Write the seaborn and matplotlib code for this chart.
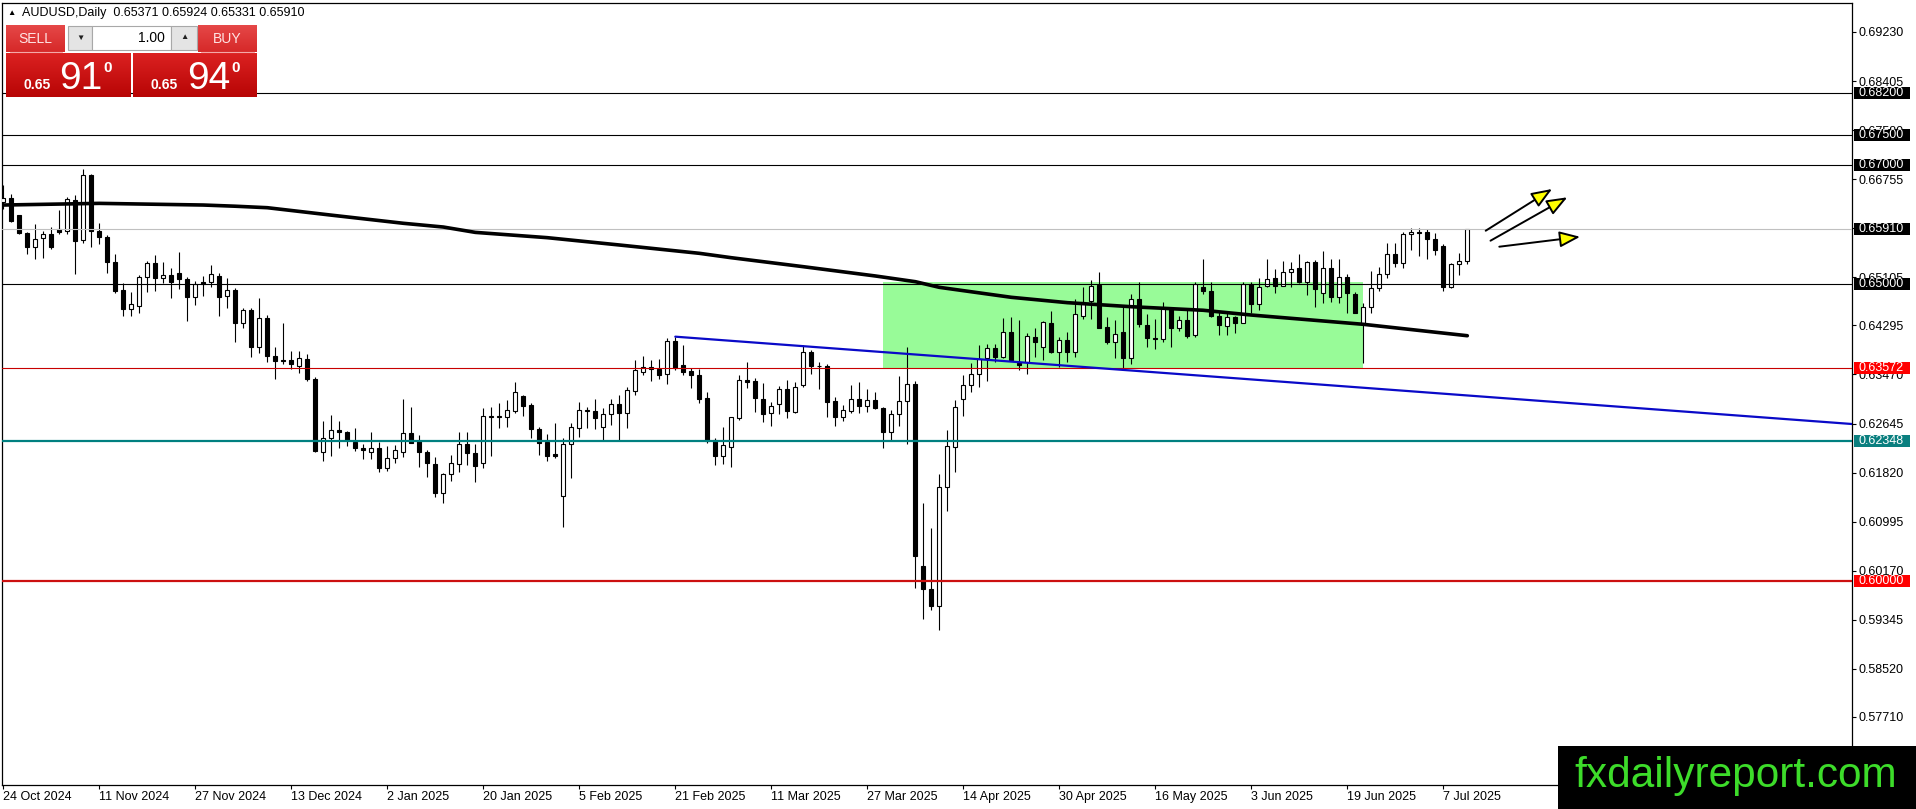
import numpy as np
import pandas as pd
import matplotlib
matplotlib.use("Agg")
import matplotlib.pyplot as plt
import seaborn as sns
from matplotlib.patches import Rectangle
from matplotlib.transforms import blended_transform_factory

# ---------------- data ----------------
opens = [0.66365, 0.66433, 0.66152, 0.65844, 0.65620, 0.65760, 0.65833, 0.65911, 0.65883, 0.66405,
         0.65732, 0.66825, 0.65883, 0.65777, 0.65356, 0.64891, 0.64566, 0.64622, 0.65104, 0.65339,
         0.65087, 0.65138, 0.65171, 0.65070, 0.64768, 0.65020, 0.65020, 0.65132, 0.64790, 0.64891,
         0.64330, 0.64555, 0.63927, 0.64414, 0.63787, 0.63714, 0.63714, 0.63613, 0.63725, 0.63394,
         0.62172, 0.62408, 0.62531, 0.62497, 0.62335, 0.62239, 0.62172, 0.62228, 0.61892, 0.62060,
         0.62172, 0.62480, 0.62351, 0.62161, 0.61959, 0.61471, 0.61791, 0.61959, 0.62301, 0.62144,
         0.61976, 0.62761, 0.62761, 0.62761, 0.62862, 0.63108, 0.62957, 0.62548, 0.62335, 0.62127,
         0.61432, 0.62295, 0.62564, 0.62856, 0.62856, 0.62593, 0.62800, 0.62968, 0.62817, 0.63198,
         0.63518, 0.63590, 0.63562, 0.63473, 0.64033, 0.63630, 0.63534, 0.63461, 0.63069, 0.62368,
         0.62105, 0.62256, 0.62733, 0.63377, 0.63360, 0.63058, 0.62817, 0.62974, 0.63220, 0.62845,
         0.63293, 0.63843, 0.63618, 0.63613, 0.63024, 0.62749, 0.62862, 0.63052, 0.62946, 0.63041,
         0.62901, 0.62497, 0.62806, 0.63024, 0.63310, 0.60249, 0.59862, 0.59582, 0.61572, 0.62256,
         0.63052, 0.63293, 0.63473, 0.63742, 0.63910, 0.63770, 0.64179, 0.63669, 0.63686, 0.64106,
         0.63938, 0.64330, 0.63854, 0.64050, 0.63854, 0.64459, 0.64712, 0.64975, 0.64263, 0.64022,
         0.64179, 0.63742, 0.64734, 0.64297, 0.64078, 0.64061, 0.64594, 0.64258, 0.64381, 0.64134,
         0.64936, 0.64880, 0.64454, 0.64286, 0.64443, 0.64342, 0.64992, 0.64656, 0.64958, 0.65087,
         0.64964, 0.65188, 0.65255, 0.65031, 0.65367, 0.64835, 0.65255, 0.64779, 0.65104, 0.64818,
         0.64319, 0.64611, 0.64919, 0.65160, 0.65496, 0.65339, 0.65833, 0.65861, 0.65861, 0.65743,
         0.65631, 0.64936, 0.65323, 0.65371]
highs = [0.66657, 0.66506, 0.66152, 0.65872, 0.66001, 0.65883, 0.65945, 0.66236, 0.66461, 0.66489,
         0.66926, 0.66842, 0.66012, 0.65816, 0.65496, 0.65003, 0.64852, 0.65143, 0.65379, 0.65480,
         0.65356, 0.65255, 0.65536, 0.65115, 0.65042, 0.65126, 0.65311, 0.65171, 0.65087, 0.64930,
         0.64583, 0.64583, 0.64751, 0.64471, 0.63938, 0.64342, 0.63871, 0.63871, 0.63815, 0.63422,
         0.62688, 0.62789, 0.62688, 0.62525, 0.62564, 0.62301, 0.62497, 0.62340, 0.62267, 0.62284,
         0.63058, 0.62929, 0.62452, 0.62200, 0.62088, 0.61808, 0.62116, 0.62497, 0.62497, 0.62301,
         0.62912, 0.62929, 0.62985, 0.63041, 0.63349, 0.63125, 0.62985, 0.62581, 0.62469, 0.62649,
         0.62396, 0.62660, 0.63013, 0.62929, 0.63052, 0.62901, 0.63058, 0.63125, 0.63265, 0.63714,
         0.63781, 0.63714, 0.63725, 0.64078, 0.64106, 0.63966, 0.63574, 0.63562, 0.63181, 0.62396,
         0.62581, 0.62761, 0.63461, 0.63686, 0.63405, 0.63321, 0.63013, 0.63276, 0.63377, 0.63349,
         0.63966, 0.63882, 0.63686, 0.63641, 0.63086, 0.62957, 0.63293, 0.63349, 0.63220, 0.63181,
         0.62929, 0.62873, 0.63445, 0.63927, 0.63366, 0.61314, 0.60894, 0.61796, 0.62536, 0.63041,
         0.63461, 0.63658, 0.63966, 0.63983, 0.63983, 0.64415, 0.64431, 0.64386, 0.64162, 0.64246,
         0.64375, 0.64538, 0.64106, 0.64190, 0.64734, 0.64947, 0.65059, 0.65188, 0.64431, 0.64386,
         0.64639, 0.64818, 0.65031, 0.64487, 0.64403, 0.64684, 0.64611, 0.64454, 0.64583, 0.65031,
         0.65407, 0.65031, 0.64538, 0.64527, 0.64454, 0.65031, 0.65031, 0.65087, 0.65407, 0.65244,
         0.65379, 0.65356, 0.65496, 0.65384, 0.65395, 0.65553, 0.65412, 0.65412, 0.65160, 0.64863,
         0.64667, 0.65216, 0.65283, 0.65687, 0.65687, 0.65861, 0.65928, 0.65928, 0.65911, 0.65844,
         0.65665, 0.65339, 0.65519, 0.65924]
lows = [0.66248, 0.66040, 0.65827, 0.65491, 0.65407, 0.65435, 0.65575, 0.65827, 0.65827, 0.65155,
        0.65676, 0.65620, 0.65659, 0.65171, 0.64835, 0.64454, 0.64459, 0.64510, 0.64852, 0.64880,
        0.65014, 0.64751, 0.64902, 0.64375, 0.64639, 0.64796, 0.64947, 0.64459, 0.64583, 0.64022,
        0.64246, 0.63759, 0.63826, 0.63686, 0.63394, 0.63641, 0.63557, 0.63489, 0.63361, 0.62161,
        0.62021, 0.62099, 0.62228, 0.62273, 0.62189, 0.62043, 0.62043, 0.61824, 0.61852, 0.61987,
        0.62088, 0.62312, 0.61909, 0.61752, 0.61415, 0.61314, 0.61684, 0.61836, 0.61948, 0.61668,
        0.61903, 0.62105, 0.62564, 0.62581, 0.62817, 0.62772, 0.62396, 0.62116, 0.62021, 0.62060,
        0.60911, 0.61735, 0.62424, 0.62576, 0.62548, 0.62368, 0.62621, 0.62368, 0.62576, 0.63125,
        0.63461, 0.63361, 0.63394, 0.63310, 0.63546, 0.63461, 0.63248, 0.62985, 0.62323, 0.61948,
        0.61965, 0.61909, 0.62705, 0.63248, 0.62845, 0.62677, 0.62609, 0.62800, 0.62733, 0.62817,
        0.63254, 0.63473, 0.63226, 0.62749, 0.62609, 0.62693, 0.62817, 0.62817, 0.62834, 0.62884,
        0.62228, 0.62368, 0.62604, 0.62295, 0.59885, 0.59352, 0.59509, 0.59173, 0.61180, 0.61836,
        0.62777, 0.63181, 0.63254, 0.63366, 0.63686, 0.63742, 0.63703, 0.63546, 0.63473, 0.63770,
        0.63714, 0.63826, 0.63602, 0.63686, 0.63770, 0.64398, 0.64403, 0.64246, 0.63977, 0.63742,
        0.63585, 0.63641, 0.64263, 0.63938, 0.63899, 0.64022, 0.63938, 0.64201, 0.64089, 0.64106,
        0.64824, 0.64431, 0.64134, 0.64134, 0.64173, 0.64330, 0.64510, 0.64555, 0.64936, 0.64835,
        0.64964, 0.64936, 0.65003, 0.64807, 0.64600, 0.64667, 0.64695, 0.64667, 0.64499, 0.64499,
        0.63670, 0.64510, 0.64880, 0.65087, 0.65283, 0.65266, 0.65564, 0.65468, 0.65407, 0.65480,
        0.64880, 0.64919, 0.65143, 0.65331]
closes = [0.66433, 0.66057, 0.65844, 0.65620, 0.65743, 0.65827, 0.65620, 0.65872, 0.66416, 0.65721,
          0.66825, 0.65883, 0.65777, 0.65356, 0.64880, 0.64566, 0.64650, 0.65104, 0.65339, 0.65087,
          0.65138, 0.65031, 0.65070, 0.64779, 0.64992, 0.64986, 0.65155, 0.64779, 0.64891, 0.64330,
          0.64555, 0.63938, 0.64414, 0.63787, 0.63702, 0.63702, 0.63641, 0.63742, 0.63389, 0.62189,
          0.62396, 0.62531, 0.62508, 0.62368, 0.62228, 0.62200, 0.62228, 0.61903, 0.62060, 0.62194,
          0.62480, 0.62323, 0.62172, 0.61976, 0.61483, 0.61796, 0.61976, 0.62301, 0.62144, 0.61937,
          0.62772, 0.62772, 0.62772, 0.62867, 0.63170, 0.62946, 0.62548, 0.62323, 0.62105, 0.62105,
          0.62295, 0.62581, 0.62873, 0.62873, 0.62744, 0.62800, 0.62968, 0.62817, 0.63209, 0.63546,
          0.63590, 0.63557, 0.63461, 0.64033, 0.63574, 0.63518, 0.63461, 0.63058, 0.62357, 0.62105,
          0.62284, 0.62749, 0.63377, 0.63349, 0.63080, 0.62800, 0.62946, 0.63220, 0.62862, 0.63265,
          0.63843, 0.63618, 0.63613, 0.63013, 0.62749, 0.62873, 0.63052, 0.62940, 0.63041, 0.62901,
          0.62497, 0.62800, 0.63024, 0.63310, 0.60423, 0.59857, 0.59582, 0.61572, 0.62267, 0.62918,
          0.63293, 0.63478, 0.63725, 0.63910, 0.63770, 0.64179, 0.63714, 0.63630, 0.64123, 0.64011,
          0.64347, 0.63854, 0.64050, 0.63854, 0.64482, 0.64695, 0.64964, 0.64258, 0.64022, 0.64145,
          0.63742, 0.64734, 0.64314, 0.64078, 0.64061, 0.64583, 0.64258, 0.64381, 0.64117, 0.64992,
          0.64880, 0.64454, 0.64302, 0.64443, 0.64342, 0.64986, 0.64656, 0.64947, 0.65070, 0.64964,
          0.65199, 0.65239, 0.65031, 0.65367, 0.64902, 0.65255, 0.64779, 0.65104, 0.64835, 0.64510,
          0.64611, 0.64919, 0.65160, 0.65496, 0.65339, 0.65833, 0.65872, 0.65844, 0.65743, 0.65564,
          0.64936, 0.65323, 0.65379, 0.65910]

date_bars = [1, 13, 25, 37, 49, 61, 73, 85, 97, 109, 121, 133, 145, 157, 169, 181]
date_labels = ["24 Oct 2024", "11 Nov 2024", "27 Nov 2024", "13 Dec 2024", "2 Jan 2025",
               "20 Jan 2025", "5 Feb 2025", "21 Feb 2025", "11 Mar 2025", "27 Mar 2025",
               "14 Apr 2025", "30 Apr 2025", "16 May 2025", "3 Jun 2025", "19 Jun 2025",
               "7 Jul 2025"]

price_ticks = [0.69230, 0.68405, 0.67580, 0.66755, 0.65930, 0.65105, 0.64295, 0.63470,
               0.62645, 0.61820, 0.60995, 0.60170, 0.59345, 0.58520, 0.57710]

ma_bars = [1, 13, 26, 30, 34, 42, 51, 56, 60, 69, 78, 88, 92, 101, 110, 115, 118, 127,
           134, 142, 151, 157, 171, 184]
ma_vals = [0.66320, 0.66348, 0.66320, 0.66300, 0.66275, 0.66150, 0.66013, 0.65950, 0.65860,
           0.65771, 0.65648, 0.65508, 0.65434, 0.65283, 0.65127, 0.65031, 0.64936, 0.64768,
           0.64678, 0.64610, 0.64550, 0.64470, 0.64314, 0.64122]

trend_bars = [85, 232.1]
trend_vals = [0.64106, 0.62637]

level_prices = [0.68200, 0.67500, 0.67000, 0.65910, 0.65000, 0.63572, 0.62348, 0.60000]
level_labels = ["0.68200", "0.67500", "0.67000", "0.65910", "0.65000", "0.63572", "0.62348", "0.60000"]
level_colors = ["black", "black", "black", "#c0c0c0", "black", "#c80000", "#008080", "#cc1010"]
level_widths = [0.8, 0.8, 0.8, 0.8, 0.8, 0.8, 1.6, 1.6]
level_boxes = ["black", "black", "black", "black", "black", "#ff0000", "#0a7f7f", "#ff0000"]

zone_bars = [111, 171]
zone_prices = [0.6358, 0.6503]

arrow_from_bars = [186.3, 186.9, 188.0]
arrow_from_vals = [0.65888, 0.65720, 0.65619]
arrow_to_bars = [194.6, 196.5, 198.1]
arrow_to_vals = [0.66590, 0.66450, 0.65786]

# ---------------- figure ----------------
sns.set_style("white")
plt.rcParams["font.family"] = ["Liberation Sans", "DejaVu Sans"]

W, H = 1916, 809
fig = plt.figure(figsize=(W / 100, H / 100), dpi=100)
fig.patch.set_facecolor("white")

ax_left, ax_right, ax_top, ax_bottom = 2.3, 1852, 3, 785
ax = fig.add_axes([ax_left / W, 1 - ax_bottom / H, (ax_right - ax_left) / W, (ax_bottom - ax_top) / H])
ax.set_facecolor("white")

df = pd.DataFrame({"bar": np.arange(1, len(opens) + 1), "open": opens, "high": highs,
                   "low": lows, "close": closes})
df["bull"] = df["close"] >= df["open"]

# zone
ax.add_patch(Rectangle((zone_bars[0], zone_prices[0]), zone_bars[1] - zone_bars[0],
                       zone_prices[1] - zone_prices[0], facecolor="#98fb98", edgecolor="none", zorder=0.5))

# candles
ax.vlines(df["bar"], df["low"], df["high"], color="black", linewidth=0.8, zorder=2)
body_bottom = np.minimum(df["open"], df["close"])
body_h = np.abs(df["close"] - df["open"])
ax.bar(df["bar"], body_h, bottom=body_bottom, width=0.52,
       color=np.where(df["bull"], "white", "black"), edgecolor="black", linewidth=0.8, zorder=3)

# moving average and trend line
sns.lineplot(x=ma_bars, y=ma_vals, color="black", linewidth=2.6, ax=ax, legend=False, zorder=4)
sns.lineplot(x=trend_bars, y=trend_vals, color="#0a0ac8", linewidth=1.6, ax=ax, legend=False, zorder=4)

# horizontal levels
for p, c, lw in zip(level_prices, level_colors, level_widths):
    ax.axhline(p, color=c, linewidth=lw, zorder=3.5)

# arrows
for x0, y0, x1, y1 in zip(arrow_from_bars, arrow_from_vals, arrow_to_bars, arrow_to_vals):
    ax.annotate("", xy=(x1, y1), xytext=(x0, y0), xycoords="data", annotation_clip=False,
                arrowprops=dict(arrowstyle="-|>,head_length=0.9,head_width=0.35", fc="#ffff00",
                                ec="black", lw=1.4, mutation_scale=14, shrinkA=0, shrinkB=0), zorder=6)

ax.set_xlim((ax_left - 3.3) / 8 + 1, (ax_right - 3.3) / 8 + 1)
ax.set_ylim(0.6923 - (ax_bottom - 32) / 5946, 0.6923 + (32 - ax_top) / 5946)

# axes style
for s in ax.spines.values():
    s.set_color("black")
    s.set_linewidth(0.9)
ax.yaxis.tick_right()
ax.set_yticks(price_ticks)
ax.set_yticklabels([f"{v:.5f}" for v in price_ticks])
ax.set_xticks(date_bars)
ax.set_xticklabels(date_labels)
for lab in ax.get_xticklabels():
    lab.set_horizontalalignment("left")
ax.tick_params(axis="y", which="both", right=True, left=False, labelright=True, labelleft=False,
               length=3, width=0.8, pad=2, labelsize=9, colors="black", direction="out")
ax.tick_params(axis="x", which="both", bottom=True, top=False, length=3, width=0.8, pad=1.5,
               labelsize=9, colors="black", direction="out")
ax.set_xlabel("")
ax.set_ylabel("")
ax.grid(False)

# price labels on right
tr = blended_transform_factory(ax.transAxes, ax.transData)
box_w = 56 / (ax_right - ax_left)
box_h = 12 / 5946
for p, lab, bc in zip(level_prices, level_labels, level_boxes):
    ax.add_patch(Rectangle((1.0011, p - box_h / 2), box_w, box_h, transform=tr, clip_on=False,
                           facecolor=bc, edgecolor="none", zorder=7))
    ax.text(1.0033, p, lab, transform=tr, color="white", fontsize=9, va="center", ha="left",
            clip_on=False, zorder=8)

# ---------------- overlay (panel, header, watermark) ----------------
ov = fig.add_axes([0, 0, 1, 1], zorder=10)
ov.set_xlim(0, W)
ov.set_ylim(H, 0)
ov.axis("off")


def grad_box(x0, x1, y0, y1, top, bottom):
    g = np.linspace(0, 1, 40)[:, None, None]
    img = (1 - g) * np.array(top)[None, None, :] + g * np.array(bottom)[None, None, :]
    ov.imshow(img, extent=(x0, x1, y1, y0), aspect="auto", zorder=2, interpolation="bilinear")


ov.text(7, 13, "▲", fontsize=6, va="center", ha="left", color="black")
ov.text(22, 13, "AUDUSD,Daily  0.65371 0.65924 0.65331 0.65910", fontsize=9, va="center",
        ha="left", color="black")

# buttons
grad_box(6, 65, 25, 52, (0.90, 0.28, 0.28), (0.84, 0.16, 0.16))
grad_box(198, 257, 25, 52, (0.90, 0.28, 0.28), (0.84, 0.16, 0.16))
grad_box(6, 131, 53, 97, (0.86, 0.13, 0.13), (0.72, 0.02, 0.02))
grad_box(133, 257, 53, 97, (0.86, 0.13, 0.13), (0.72, 0.02, 0.02))
ov.plot([10, 62], [52, 52], color="#f4a8a8", lw=0.8, zorder=3)
ov.plot([201, 254], [52, 52], color="#f4a8a8", lw=0.8, zorder=3)
ov.add_patch(Rectangle((68, 26), 24, 24, facecolor="#e4e4e4", edgecolor="#a8a8a8", lw=0.8, zorder=2))
ov.add_patch(Rectangle((92, 26), 79, 24, facecolor="white", edgecolor="#a8a8a8", lw=0.8, zorder=2))
ov.add_patch(Rectangle((171, 26), 26, 24, facecolor="#e4e4e4", edgecolor="#a8a8a8", lw=0.8, zorder=2))
ov.text(80, 38, "▼", fontsize=6, ha="center", va="center", color="#202020", zorder=4)
ov.text(184, 37, "▲", fontsize=6, ha="center", va="center", color="#202020", zorder=4)
ov.text(165, 38, "1.00", fontsize=10, ha="right", va="center", color="black", zorder=4)
ov.text(35, 39, "SELL", fontsize=10, ha="center", va="center", color="#ffe4e4", zorder=4)
ov.text(227, 39, "BUY", fontsize=10, ha="center", va="center", color="#ffe4e4", zorder=4)
for x_small, x_big, x_sup, big in [(24, 59, 103, "91"), (151, 187, 231, "94")]:
    ov.text(x_small, 89, "0.65", fontsize=10, fontweight="bold", ha="left", va="baseline",
            color="white", zorder=4)
    ov.text(x_big, 89, big, fontsize=28, ha="left", va="baseline", color="white", zorder=4)
    ov.text(x_sup, 72, "0", fontsize=11, fontweight="bold", ha="left", va="baseline",
            color="white", zorder=4)

# watermark
ov.add_patch(Rectangle((1558, 746), W - 1558, H - 746, facecolor="black", edgecolor="none", zorder=5))
ov.text(1574, 787, "fxdailyreport.com", fontsize=30.5, ha="left", va="baseline",
        color="#3ddc2a", zorder=6)

fig.savefig("out.png", dpi=100)
